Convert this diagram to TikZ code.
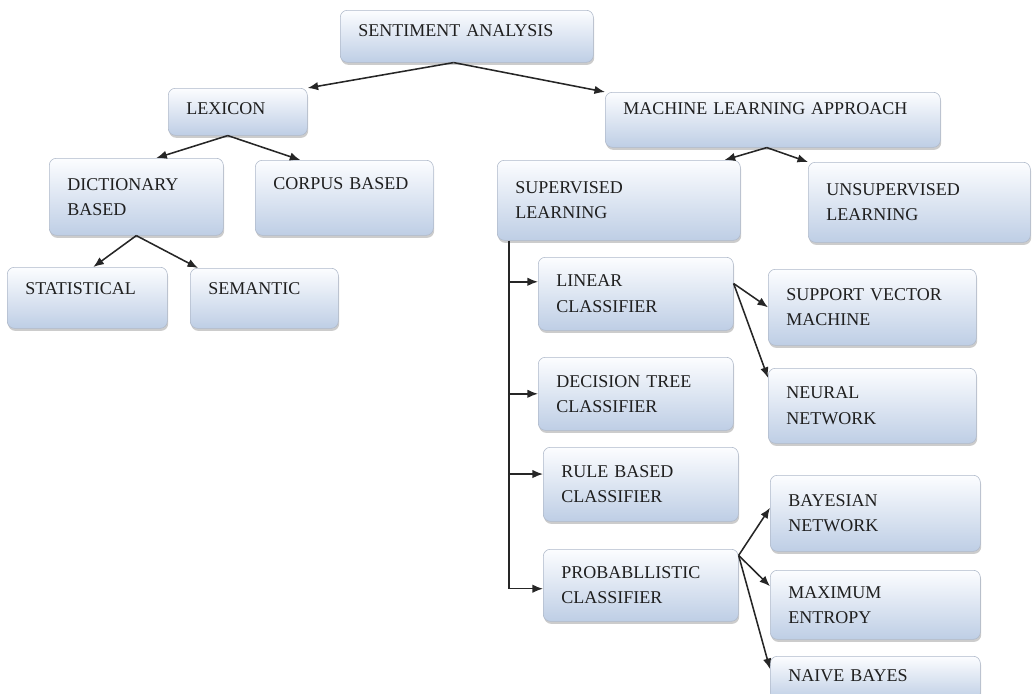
\documentclass[tikz,border=0pt]{standalone}
\usepackage{fontspec}
\setmainfont{Liberation Serif}
\usetikzlibrary{arrows.meta, shadows, positioning, calc}

\definecolor{boxtop}{RGB}{252,253,255}
\definecolor{boxbot}{RGB}{190,206,229}
\definecolor{boxline}{RGB}{175,185,202}

\begin{document}
\begin{tikzpicture}[x=0.025cm, y=-0.025cm,
    box/.style={draw=boxline, rounded corners=5pt, top color=boxtop, bottom color=boxbot,
        drop shadow={shadow xshift=0.6pt, shadow yshift=-1.8pt, opacity=0.4},
        anchor=north west, align=left, inner xsep=0.45cm, text=black!88,
        font=\fontsize{12.8}{18}\selectfont},
    link/.style={-{Latex[length=7.5pt, width=6pt]}, line width=1.1pt, black!85}]
    \useasboundingbox (0,0) rectangle (1032,693);

    % Draw the root and first level
    \node[box, text width=5.425cm, minimum height=1.3cm, text depth=0.3cm] (senti) at (340,10) {SENTIMENT ANALYSIS};
    \node[box, text width=2.575cm, minimum height=1.175cm, text depth=0.15cm] (lex) at (168,88) {LEXICON};
    \node[box, text width=7.475cm, minimum height=1.375cm, text depth=0.58cm] (mla) at (605,92) {MACHINE LEARNING APPROACH};

    % Draw the lexicon branch
    \node[box, text width=3.45cm, minimum height=1.925cm] (dict) at (49,158) {DICTIONARY\\BASED};
    \node[box, text width=3.75cm, inner xsep=0.35cm, minimum height=1.875cm, text depth=0.72cm] (corpus) at (255,160) {\hspace{0.1cm}CORPUS BASED};
    \node[box, text width=3.1cm, minimum height=1.525cm, text depth=0.48cm] (stat) at (7,267) {STATISTICAL};
    \node[box, text width=2.8cm, minimum height=1.5cm, text depth=0.48cm] (sem) at (190,268) {SEMANTIC};

    % Draw the machine learning branch
    \node[box, text width=5.175cm, minimum height=2cm] (sup) at (497,160) {SUPERVISED\\LEARNING};
    \node[box, text width=4.65cm, minimum height=2cm] (unsup) at (808,162) {UNSUPERVISED\\LEARNING};
    \node[box, text width=3.975cm, minimum height=1.825cm] (lin) at (538,257) {LINEAR\\CLASSIFIER};
    \node[box, text width=3.975cm, minimum height=1.825cm] (dec) at (538,357) {DECISION TREE\\CLASSIFIER};
    \node[box, text width=3.975cm, minimum height=1.85cm] (rule) at (543,447) {RULE BASED\\CLASSIFIER};
    \node[box, text width=3.975cm, minimum height=1.8cm] (prob) at (543,549) {PROBABLLISTIC\\CLASSIFIER};
    \node[box, text width=4.3cm, minimum height=1.9cm] (svm) at (768,269) {SUPPORT VECTOR\\MACHINE};
    \node[box, text width=4.3cm, minimum height=1.875cm] (neu) at (768,368) {NEURAL\\NETWORK};
    \node[box, text width=4.35cm, minimum height=1.9cm] (bay) at (770,475) {BAYESIAN\\NETWORK};
    \node[box, text width=4.35cm, minimum height=1.725cm] (maxent) at (770,570) {MAXIMUM\\ENTROPY};
    \node[box, text width=4.35cm, minimum height=1.1cm, text depth=0.15cm] (naive) at (770,656) {NAIVE BAYES};

    % Arrows from the root
    \draw[link] ([xshift=-0.33cm]senti.south) -- (lex.north east);
    \draw[link] ([xshift=-0.33cm]senti.south) -- (mla.north west);

    % Arrows in the lexicon branch
    \draw[link] ([xshift=-0.25cm]lex.south) -- ([xshift=0.5cm]dict.north);
    \draw[link] ([xshift=-0.25cm]lex.south) -- ([xshift=-1.1cm]corpus.north);
    \draw[link] (dict.south) -- ([xshift=0.15cm]stat.north);
    \draw[link] (dict.south) -- ([xshift=0.2cm]sem.north west);

    % Arrows in the machine learning branch
    \draw[link] ([xshift=-0.15cm]mla.south) -- ([xshift=-0.4cm]sup.north east);
    \draw[link] ([xshift=-0.15cm]mla.south) -- (unsup.north west);

    % Trunk line to the classifiers
    \coordinate (trunk) at ([xshift=0.3cm]sup.south west);
    \draw[link] (trunk) |- (prob.182);
    \foreach \n/\a in {lin/173, dec/180, rule/174}
        \draw[link] (trunk |- \n.\a) -- (\n.\a);

    % Arrows to the leaf methods
    \draw[link] (lin.6) -- (svm.west);
    \draw[link] (lin.6) -- (neu.165);
    \draw[link] (prob.17) -- (bay.177);
    \draw[link] (prob.17) -- (maxent.170);
    \draw[link] (prob.17) -- (naive.175);
\end{tikzpicture}
\end{document}
